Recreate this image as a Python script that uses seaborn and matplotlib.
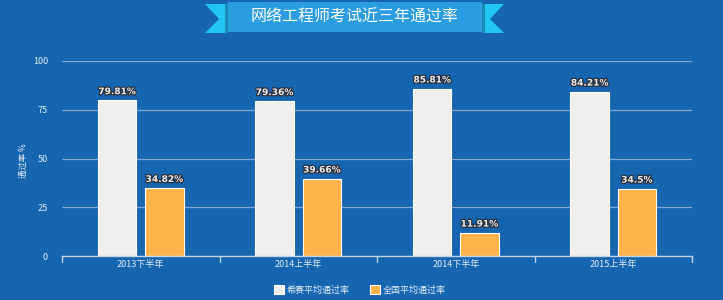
import matplotlib
matplotlib.use("Agg")
import matplotlib.pyplot as plt
import matplotlib.patheffects as pe
from matplotlib.patches import Polygon
import seaborn as sns
import pandas as pd

categories = ["2013下半年", "2014上半年", "2014下半年", "2015上半年"]
series_names = ["希赛平均通过率", "全国平均通过率"]
xisai_values = [79.81, 79.36, 85.81, 84.21]
national_values = [34.82, 39.66, 11.91, 34.5]
value_labels = [["79.81%", "79.36%", "85.81%", "84.21%"],
                ["34.82%", "39.66%", "11.91%", "34.5%"]]
yticks = [0, 25, 50, 75, 100]
title = "网络工程师考试近三年通过率"
ylabel = "通过率 %"

BG = "#1565b1"
WHITE_BAR = "#efefef"
ORANGE = "#ffb44a"
TXT = "#e6eef8"

sns.set_theme(style="white")
plt.rcParams['font.family'] = ['Noto Sans CJK SC', 'DejaVu Sans']

df = pd.DataFrame({
    "cat": categories * 2,
    "series": [series_names[0]] * 4 + [series_names[1]] * 4,
    "val": xisai_values + national_values,
})

W, H = 723, 300
fig = plt.figure(figsize=(7.23, 3.0), dpi=100)
fig.patch.set_facecolor(BG)

def fx(x):
    return x / W

def fy(y):
    return 1 - y / H

ax = fig.add_axes([fx(62), fy(256), fx(692) - fx(62), fy(61) - fy(256)])
ax.set_facecolor(BG)

sns.barplot(data=df, x="cat", y="val", hue="series", order=categories,
            hue_order=series_names, palette=[WHITE_BAR, ORANGE],
            width=0.6, gap=0, ax=ax, legend=True, saturation=1,
            edgecolor="#ffffff", linewidth=0.8)

# shrink bars a little for a gap between them
for p in ax.patches:
    w = p.get_width()
    if w <= 0:
        continue
    cx = p.get_x() + w / 2
    nw = 0.245
    p.set_width(nw)
    p.set_x(cx - nw / 2)

# data labels
bars = [p for p in ax.patches if p.get_width() > 0]
bars_sorted = sorted(bars, key=lambda p: p.get_x())
allvals = []
for i in range(4):
    allvals.append(value_labels[0][i])
    allvals.append(value_labels[1][i])
for p, lab in zip(bars_sorted, allvals):
    ax.annotate(lab, (p.get_x() + p.get_width() / 2, p.get_height()),
                xytext=(0, 3), textcoords="offset points", ha="center",
                va="bottom", fontsize=6.5, fontweight="bold", color="#eeeeee",
                family=['DejaVu Sans'],
                path_effects=[pe.withStroke(linewidth=1.8, foreground="#2a2f3a")])

ax.set_ylim(0, 100)
ax.set_xlim(-0.5, 3.5)
ax.set_yticks(yticks)
ax.set_yticklabels([str(v) for v in yticks], fontsize=6.5, color=TXT)
ax.yaxis.grid(True, color="#84a8d1", linewidth=0.9)
ax.set_axisbelow(True)
ax.tick_params(axis="y", length=0, pad=10)
ax.tick_params(axis="x", length=0, pad=3, labelsize=6.5, labelcolor=TXT)
ax.set_xlabel("")
ax.set_ylabel(ylabel, fontsize=6, color=TXT)
for s in ["left", "right", "top"]:
    ax.spines[s].set_visible(False)
ax.spines["bottom"].set_color("#c0d3ea")
ax.spines["bottom"].set_linewidth(1.0)
# category boundary ticks
for xb in [-0.5, 0.5, 1.5, 2.5, 3.5]:
    ax.plot([xb, xb], [0, -3], color="#c0d3ea", lw=1.0, clip_on=False)

# y label placed at pixel x ~22
ax.yaxis.set_label_coords((28 - 62) / (692 - 62), 0.49)

# legend
handles, labels = ax.get_legend_handles_labels()
if ax.legend_:
    ax.legend_.remove()
leg = fig.legend(handles, labels, loc="center", bbox_to_anchor=(fx(360), fy(290)),
                 ncol=2, frameon=False, handlelength=1.1, handleheight=1.0,
                 handletextpad=0.3, columnspacing=2.2, fontsize=6.5)
for t in leg.get_texts():
    t.set_color(TXT)

# title banner
def poly(pts, color):
    fig.patches.append(Polygon([(fx(x), fy(y)) for x, y in pts], closed=True,
                               transform=fig.transFigure, facecolor=color,
                               edgecolor="none", zorder=1))

poly([(205, 4), (227, 4), (227, 33), (205, 33), (219, 19)], "#22c6f4")
poly([(225, 4), (228, 4), (228, 33), (225, 33)], "#1a8cb8")
poly([(482, 4), (504, 4), (490, 19), (504, 33), (482, 33)], "#22c6f4")
poly([(482, 4), (485, 4), (485, 33), (482, 33)], "#1a8cb8")
poly([(228, 2), (482, 2), (482, 32), (228, 32)], "#2a9ce0")
fig.text(fx(355), fy(17), title, ha="center", va="center", fontsize=11.5,
         color="#ffffff")

fig.savefig("out.png", dpi=100, facecolor=BG)
